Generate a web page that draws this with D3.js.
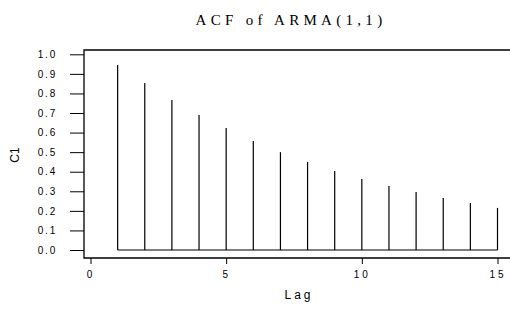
<!DOCTYPE html>
<html>
<head>
<meta charset="utf-8">
<script src="https://cdn.jsdelivr.net/npm/d3@7"></script>
<style>
  body { margin: 0; background: #fff; }
  svg { display: block; }
</style>
</head>
<body>
<svg id="chart" width="510" height="312"></svg>
<script>
const lags = [1, 2, 3, 4, 5, 6, 7, 8, 9, 10, 11, 12, 13, 14, 15]
const acf = [0.945, 0.853, 0.766, 0.69, 0.623, 0.557, 0.50, 0.45, 0.404, 0.363, 0.327, 0.296, 0.266, 0.24, 0.215]
const yTicks = [0, 0.1, 0.2, 0.3, 0.4, 0.5, 0.6, 0.7, 0.8, 0.9, 1.0]
const xTicks = [0, 5, 10, 15]

const width = 510, height = 312
const svg = d3.select('#chart')

// escalas
const x = d3.scaleLinear().domain([0, 15]).range([90.5, 497.5])
const y = d3.scaleLinear().domain([0, 1]).range([250, 54.3])

// marco (izquierda, arriba, abajo)
const frame = { left: 84, top: 50, bottom: 258 }
svg.append('path')
  .attr('d', `M${width + 5},${frame.top}H${frame.left}V${frame.bottom}H${width + 5}`)
  .attr('fill', 'none')
  .attr('stroke', '#000')
  .attr('stroke-width', 1.3)

// eje y
const yAxis = d3.axisLeft(y)
  .tickValues(yTicks)
  .tickFormat(d3.format('.1f'))
  .tickSize(14)
  .tickPadding(13)

svg.append('g')
  .attr('transform', `translate(${frame.left},0)`)
  .call(yAxis)
  .call(g => g.select('.domain').remove())
  .call(g => g.selectAll('text')
    .attr('font-family', 'Liberation Sans, Arial, sans-serif')
    .attr('font-size', 10)
    .attr('letter-spacing', 1.8)
    .attr('fill', '#000'))

// eje x
const xAxis = d3.axisBottom(x)
  .tickValues(xTicks)
  .tickSize(6)
  .tickPadding(7)

svg.append('g')
  .attr('transform', `translate(0,${frame.bottom})`)
  .call(xAxis)
  .call(g => g.select('.domain').remove())
  .call(g => g.selectAll('text')
    .attr('font-family', 'Liberation Sans, Arial, sans-serif')
    .attr('font-size', 10)
    .attr('letter-spacing', 3)
    .attr('fill', '#000'))

// linea base
svg.append('line')
  .attr('x1', x(lags[0]))
  .attr('x2', x(lags[lags.length - 1]))
  .attr('y1', y(0))
  .attr('y2', y(0))
  .attr('stroke', '#000')
  .attr('stroke-width', 1.2)

// barras
svg.append('g')
  .selectAll('line')
  .data(lags)
  .join('line')
  .attr('x1', d => x(d))
  .attr('x2', d => x(d))
  .attr('y1', y(0))
  .attr('y2', (d, i) => y(acf[i]))
  .attr('stroke', '#000')
  .attr('stroke-width', 1.2)

// titulo
svg.append('text')
  .text('ACF of ARMA(1,1)')
  .attr('x', 291)
  .attr('y', 25)
  .attr('text-anchor', 'middle')
  .attr('font-family', 'Liberation Serif, Times New Roman, serif')
  .attr('font-size', 15)
  .attr('letter-spacing', 4.3)

// etiquetas de ejes
svg.append('text')
  .text('Lag')
  .attr('x', 299)
  .attr('y', 299)
  .attr('text-anchor', 'middle')
  .attr('font-family', 'Liberation Sans, Arial, sans-serif')
  .attr('font-size', 12)
  .attr('letter-spacing', 3)

svg.append('text')
  .text('C1')
  .attr('transform', 'rotate(-90)')
  .attr('x', -155)
  .attr('y', 19)
  .attr('text-anchor', 'middle')
  .attr('font-family', 'Liberation Sans, Arial, sans-serif')
  .attr('font-size', 12)
</script>
</body>
</html>
